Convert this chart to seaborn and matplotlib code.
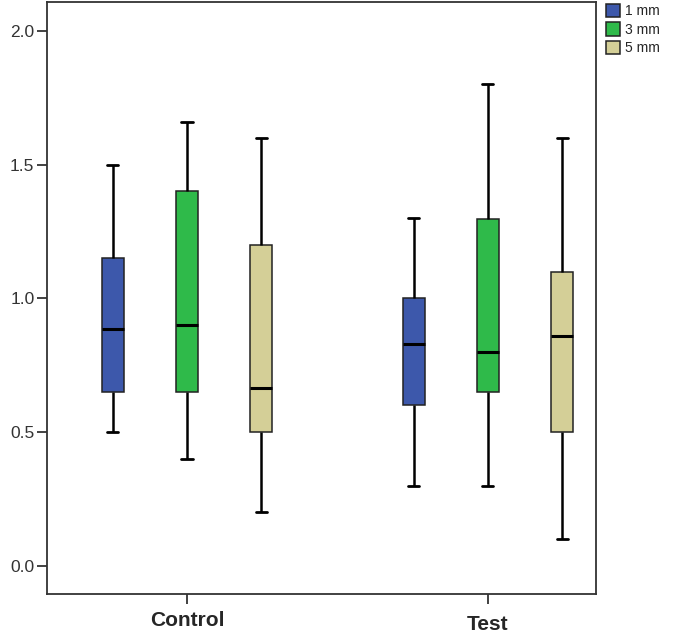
import matplotlib
matplotlib.use('Agg')
import matplotlib.pyplot as plt
import matplotlib.transforms as mtransforms
import seaborn as sns
import pandas as pd

# five-number summaries: min, q1, median, q3, max
groups = ['Control', 'Test']
depths = ['1 mm', '3 mm', '5 mm']
control_1mm = [0.50, 0.65, 0.885, 1.15, 1.50]
control_3mm = [0.40, 0.65, 0.90, 1.40, 1.66]
control_5mm = [0.20, 0.50, 0.665, 1.20, 1.60]
test_1mm = [0.30, 0.60, 0.83, 1.00, 1.30]
test_3mm = [0.30, 0.65, 0.80, 1.295, 1.80]
test_5mm = [0.10, 0.50, 0.86, 1.10, 1.60]

values = {
    ('Control', '1 mm'): control_1mm,
    ('Control', '3 mm'): control_3mm,
    ('Control', '5 mm'): control_5mm,
    ('Test', '1 mm'): test_1mm,
    ('Test', '3 mm'): test_3mm,
    ('Test', '5 mm'): test_5mm,
}
rows = []
for (g, d), vals in values.items():
    for v in vals:
        rows.append({'group': g, 'depth': d, 'value': v})
df = pd.DataFrame(rows)

palette = {'1 mm': '#3D58AB', '3 mm': '#2FBA4A', '5 mm': '#D4CF97'}

sns.set_style('white')
plt.rcParams['font.family'] = ['Liberation Sans', 'DejaVu Sans']

fig = plt.figure(figsize=(6.85, 6.35), dpi=100)
ax = fig.add_axes([0.0686, 0.0646, 0.8014, 0.9324])

sns.boxplot(data=df, x='group', y='value', hue='depth', order=groups,
            hue_order=depths, palette=palette, width=0.74, gap=0.7,
            whis=(0, 100), linecolor='#222222', linewidth=1.1,
            medianprops={'color': 'black', 'linewidth': 2.2},
            whiskerprops={'color': 'black', 'linewidth': 1.8},
            capprops={'color': 'black', 'linewidth': 2.0},
            saturation=1, ax=ax)

ax.set_xlim(-0.465, 1.359)
ax.set_ylim(-0.105, 2.108)
ax.set_yticks([0.0, 0.5, 1.0, 1.5, 2.0])
ax.set_yticklabels(['0.0', '0.5', '1.0', '1.5', '2.0'])
ax.set_xlabel('')
ax.set_ylabel('')

for side in ax.spines.values():
    side.set_color('#333333')
    side.set_linewidth(1.3)

ax.tick_params(axis='y', left=True, direction='out', length=7, width=1.3,
               color='#333333', labelsize=12.5, labelcolor='#333333', pad=2)
ax.tick_params(axis='x', bottom=True, direction='out', length=7, width=1.3,
               color='#333333', labelsize=15, pad=5)
for lbl in ax.get_xticklabels():
    lbl.set_fontweight('bold')
test_lbl = ax.get_xticklabels()[1]
test_lbl.set_transform(test_lbl.get_transform() +
                       mtransforms.ScaledTranslation(0, -3 / 72, fig.dpi_scale_trans))

handles, labels = ax.get_legend_handles_labels()
ax.legend(handles, labels, loc='upper left', bbox_to_anchor=(1.008, 1.006),
          frameon=False, fontsize=10, handlelength=1.0, handleheight=1.1,
          handletextpad=0.35, labelspacing=0.3, borderaxespad=0)

fig.savefig('out.png', dpi=100)
